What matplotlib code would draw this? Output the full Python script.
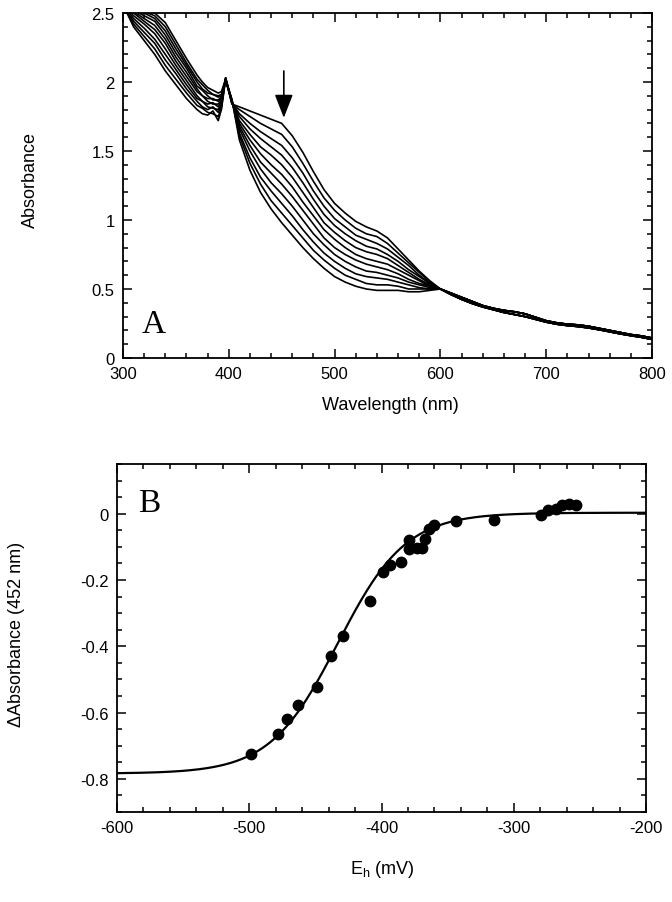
import matplotlib
matplotlib.use("Agg")
import matplotlib.pyplot as plt
import numpy as np
from matplotlib.ticker import MultipleLocator, FuncFormatter

plt.rcParams['font.family'] = ['Liberation Sans', 'DejaVu Sans']
plt.rcParams['mathtext.fontset'] = 'custom'
plt.rcParams['mathtext.rm'] = 'Liberation Sans'
plt.rcParams['mathtext.it'] = 'Liberation Sans'
plt.rcParams['axes.unicode_minus'] = False

# ---------------- Panel A data: redox titration spectra ----------------
wavelengths = [300, 310, 320, 330, 340, 350, 360, 370, 375, 380, 385, 390, 393,
               397, 403, 410, 420, 430, 440, 450, 460, 470, 480, 490, 500,
               510, 520, 530, 540, 550, 560, 570, 580, 590, 600]

# one row per wavelength, 11 spectra (oxidised -> reduced)
spectra_by_wl = [
    [2.56, 2.56, 2.56, 2.56, 2.56, 2.56, 2.56, 2.56, 2.56, 2.56, 2.56],  # 300
    [2.40, 2.42, 2.44, 2.46, 2.48, 2.50, 2.51, 2.52, 2.53, 2.54, 2.55],  # 310
    [2.30, 2.33, 2.36, 2.39, 2.42, 2.44, 2.46, 2.48, 2.50, 2.51, 2.52],  # 320
    [2.20, 2.24, 2.28, 2.31, 2.35, 2.38, 2.41, 2.44, 2.46, 2.48, 2.50],  # 330
    [2.08, 2.12, 2.16, 2.20, 2.24, 2.28, 2.31, 2.34, 2.37, 2.40, 2.43],  # 340
    [1.98, 2.02, 2.06, 2.09, 2.12, 2.15, 2.18, 2.21, 2.24, 2.27, 2.30],  # 350
    [1.88, 1.92, 1.95, 1.98, 2.01, 2.04, 2.07, 2.10, 2.12, 2.14, 2.17],  # 360
    [1.80, 1.83, 1.86, 1.88, 1.90, 1.93, 1.95, 1.97, 2.00, 2.02, 2.05],  # 370
    [1.77, 1.81, 1.82, 1.86, 1.86, 1.90, 1.90, 1.94, 1.95, 1.98, 2.00],  # 375
    [1.76, 1.78, 1.80, 1.82, 1.84, 1.86, 1.88, 1.90, 1.92, 1.94, 1.96],  # 380
    [1.79, 1.77, 1.82, 1.81, 1.85, 1.84, 1.88, 1.87, 1.91, 1.91, 1.94],  # 385
    [1.72, 1.75, 1.78, 1.80, 1.82, 1.84, 1.86, 1.87, 1.89, 1.90, 1.92],  # 390
    [1.80, 1.81, 1.83, 1.84, 1.86, 1.87, 1.88, 1.89, 1.90, 1.91, 1.93],  # 393
    [2.02, 2.03, 2.02, 2.03, 2.02, 2.03, 2.02, 2.01, 2.02, 2.01, 2.02],  # 397
    [1.84, 1.84, 1.85, 1.85, 1.85, 1.86, 1.86, 1.86, 1.87, 1.87, 1.87],  # 403
    [1.82, 1.80, 1.77, 1.75, 1.72, 1.70, 1.68, 1.66, 1.63, 1.61, 1.58],  # 410
    [1.79, 1.75, 1.70, 1.66, 1.62, 1.58, 1.54, 1.50, 1.45, 1.41, 1.36],  # 420
    [1.76, 1.70, 1.64, 1.59, 1.53, 1.48, 1.42, 1.37, 1.31, 1.26, 1.20],  # 430
    [1.73, 1.66, 1.59, 1.53, 1.47, 1.40, 1.34, 1.27, 1.21, 1.14, 1.08],  # 440
    [1.70, 1.62, 1.54, 1.47, 1.40, 1.33, 1.26, 1.19, 1.12, 1.05, 0.98],  # 450
    [1.61, 1.53, 1.45, 1.38, 1.31, 1.24, 1.17, 1.10, 1.03, 0.96, 0.89],  # 460
    [1.49, 1.41, 1.34, 1.27, 1.20, 1.13, 1.07, 1.00, 0.93, 0.87, 0.80],  # 470
    [1.35, 1.28, 1.21, 1.15, 1.09, 1.03, 0.97, 0.90, 0.84, 0.78, 0.72],  # 480
    [1.22, 1.16, 1.10, 1.04, 0.98, 0.93, 0.87, 0.82, 0.76, 0.71, 0.65],  # 490
    [1.12, 1.07, 1.01, 0.96, 0.91, 0.86, 0.80, 0.75, 0.70, 0.65, 0.59],  # 500
    [1.05, 1.00, 0.95, 0.90, 0.85, 0.80, 0.75, 0.70, 0.65, 0.60, 0.55],  # 510
    [0.99, 0.94, 0.89, 0.85, 0.80, 0.75, 0.71, 0.66, 0.61, 0.57, 0.52],  # 520
    [0.95, 0.90, 0.86, 0.81, 0.77, 0.72, 0.68, 0.63, 0.59, 0.54, 0.50],  # 530
    [0.92, 0.88, 0.83, 0.79, 0.75, 0.70, 0.66, 0.62, 0.58, 0.53, 0.49],  # 540
    [0.87, 0.83, 0.79, 0.75, 0.72, 0.68, 0.64, 0.60, 0.57, 0.53, 0.49],  # 550
    [0.79, 0.76, 0.73, 0.70, 0.67, 0.64, 0.61, 0.58, 0.55, 0.52, 0.49],  # 560
    [0.71, 0.69, 0.67, 0.64, 0.62, 0.60, 0.57, 0.55, 0.53, 0.50, 0.48],  # 570
    [0.63, 0.62, 0.60, 0.59, 0.57, 0.56, 0.54, 0.53, 0.51, 0.50, 0.48],  # 580
    [0.56, 0.55, 0.54, 0.54, 0.53, 0.52, 0.52, 0.51, 0.50, 0.50, 0.49],  # 590
    [0.50, 0.50, 0.50, 0.50, 0.50, 0.50, 0.50, 0.50, 0.50, 0.50, 0.50],  # 600
]

tail_wavelengths = [610, 620, 630, 640, 650, 660, 670, 680, 690, 700,
                    710, 720, 730, 740, 750, 760, 770, 780, 790, 800]
tail_upper = [0.47, 0.44, 0.41, 0.38, 0.36, 0.345, 0.335, 0.32, 0.295, 0.27,
              0.255, 0.245, 0.24, 0.23, 0.215, 0.20, 0.185, 0.17, 0.16, 0.145]
tail_lower = [0.46, 0.425, 0.395, 0.37, 0.35, 0.33, 0.315, 0.30, 0.28, 0.26,
              0.245, 0.235, 0.228, 0.218, 0.205, 0.19, 0.175, 0.162, 0.15, 0.135]

# ---------------- Panel B data: potentiometric titration ----------------
eh_mv = [-498.5, -478.4, -471.4, -463.4, -448.9, -438.3, -429.0, -408.8,
         -398.7, -393.7, -385.0, -379.0, -379.0, -373.2, -369.0, -367.4,
         -364.4, -360.6, -343.6, -315.0, -279.5, -274.3, -268.0, -263.6,
         -258.0, -253.0]
d_abs = [-0.725, -0.665, -0.620, -0.578, -0.522, -0.428, -0.370, -0.262,
         -0.176, -0.156, -0.146, -0.106, -0.080, -0.102, -0.104, -0.076,
         -0.046, -0.034, -0.022, -0.019, -0.004, 0.011, 0.013, 0.025,
         0.030, 0.027]

# Nernst fit parameters
fit_E0 = -433.0     # mV
fit_n = 1
fit_amp = -0.787
fit_top = 0.003

fig = plt.figure(figsize=(6.72, 9.03), dpi=100)
W, H = 672.0, 903.0
axA = fig.add_axes([123 / W, 1 - 359 / H, (652 - 123) / W, (359 - 14) / H])
axB = fig.add_axes([117 / W, 1 - 813 / H, (646 - 117) / W, (813 - 465) / H])

spectra = np.array(spectra_by_wl).T
for i, row in enumerate(spectra):
    tail = tail_upper if i % 2 == 0 else tail_lower
    x = list(wavelengths) + tail_wavelengths
    y = list(row) + tail
    axA.plot(x, y, color='black', lw=1.2, solid_joinstyle='round')

axA.set_xlim(300, 800)
axA.set_ylim(0, 2.5)
axA.xaxis.set_major_locator(MultipleLocator(100))
axA.xaxis.set_minor_locator(MultipleLocator(20))
axA.yaxis.set_major_locator(MultipleLocator(0.5))
axA.yaxis.set_minor_locator(MultipleLocator(0.1))
axA.yaxis.set_major_formatter(FuncFormatter(lambda v, p: '%g' % v))
axA.annotate('', xy=(452, 1.74), xytext=(452, 2.08),
             arrowprops=dict(arrowstyle='-|>,head_length=0.9,head_width=0.35',
                             lw=1.2, color='black', mutation_scale=16,
                             shrinkA=0, shrinkB=0))
axA.text(318, 0.19, 'A', family=['Liberation Serif'], fontsize=24,
         ha='left', va='baseline')

E = np.linspace(-600, -200, 401)
fit = fit_top + fit_amp / (1 + np.exp(fit_n * (E - fit_E0) / 25.69))
axB.plot(E, fit, color='black', lw=1.6)
axB.plot(eh_mv, d_abs, 'o', color='black', ms=7.5, mec='black')
axB.set_xlim(-600, -200)
axB.set_ylim(-0.9, 0.15)
axB.xaxis.set_major_locator(MultipleLocator(100))
axB.xaxis.set_minor_locator(MultipleLocator(20))
axB.yaxis.set_major_locator(MultipleLocator(0.2))
axB.yaxis.set_minor_locator(MultipleLocator(0.05))
axB.xaxis.set_major_formatter(FuncFormatter(lambda v, p: '%d' % round(v)))
axB.yaxis.set_major_formatter(FuncFormatter(lambda v, p: '%g' % round(v, 2)))
axB.text(-584, 0.009, 'B', family=['Liberation Serif'], fontsize=24,
         ha='left', va='baseline')

for ax in (axA, axB):
    for s in ax.spines.values():
        s.set_linewidth(1.3)
    ax.tick_params(which='both', direction='in', top=True, right=True,
                   labelsize=12, width=1.1, pad=6)
    ax.tick_params(which='major', length=6.5)
    ax.tick_params(which='minor', length=3.5)

fig.text(30 / W, 1 - 180 / H, 'Absorbance', rotation=90, ha='center', va='center', fontsize=13)
fig.text(390 / W, 1 - 406 / H, 'Wavelength (nm)', ha='center', va='center', fontsize=13)
fig.text(17 / W, 1 - 634 / H, '\u0394Absorbance (452 nm)', rotation=90, ha='center', va='center', fontsize=13)
fig.text(382 / W, 1 - 870 / H, r'E$_{\mathregular{h}}$ (mV)', ha='center', va='center', fontsize=13)

fig.savefig('out.png', dpi=100, facecolor='white')
